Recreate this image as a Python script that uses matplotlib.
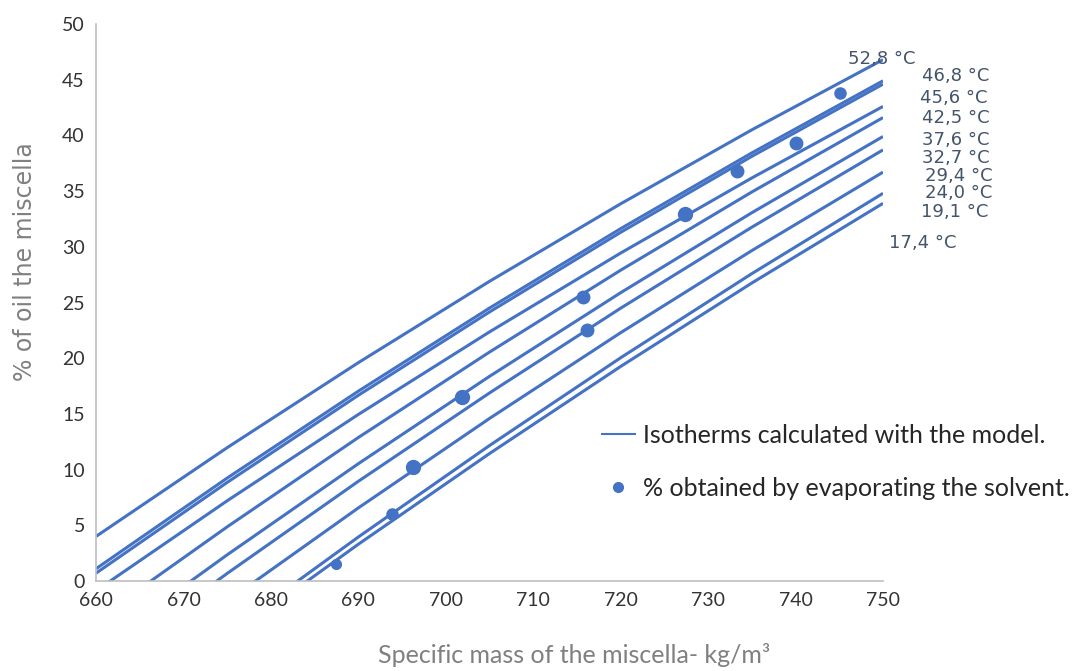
import matplotlib
matplotlib.use("Agg")
import matplotlib.pyplot as plt
from matplotlib.lines import Line2D

# specific mass grid (kg/m3) on which the isotherms were read
mass = [660, 675, 690, 705, 720, 735, 750]

# % of oil read along each isotherm (below 0 is cut by the axis)
iso_52_8 = [4.0, 11.97, 19.60, 26.90, 33.86, 40.50, 46.8]
iso_46_8 = [1.1, 9.24, 17.04, 24.50, 31.63, 38.43, 44.9]
iso_45_6 = [0.7, 8.85, 16.67, 24.15, 31.30, 38.12, 44.6]
iso_42_5 = [-0.88, 7.20, 14.95, 22.36, 29.44, 36.18, 42.6]
iso_37_6 = [-3.49, 4.86, 12.88, 20.55, 27.90, 34.92, 41.6]
iso_32_7 = [-6.16, 2.35, 10.53, 18.37, 25.88, 33.06, 39.9]
iso_29_4 = [-7.93, 0.68, 8.95, 16.88, 24.49, 31.76, 38.7]
iso_24_0 = [-10.51, -1.81, 6.56, 14.59, 22.29, 29.66, 36.7]
iso_19_1 = [-13.47, -4.60, 3.95, 12.16, 20.04, 27.59, 34.8]
iso_17_4 = [-14.0, -5.19, 3.30, 11.44, 19.26, 26.75, 33.9]

isotherms = [iso_52_8, iso_46_8, iso_45_6, iso_42_5, iso_37_6,
             iso_32_7, iso_29_4, iso_24_0, iso_19_1, iso_17_4]
iso_labels = ["52,8 °C", "46,8 °C", "45,6 °C", "42,5 °C", "37,6 °C",
              "32,7 °C", "29,4 °C", "24,0 °C", "19,1 °C", "17,4 °C"]

# measured points (evaporation of the solvent)
meas_mass = [687.5, 693.8, 696.2, 701.8, 716.1, 715.7, 727.4, 733.3, 740.1, 745.1]
meas_oil = [1.5, 6.0, 10.2, 16.5, 22.5, 25.5, 32.9, 36.8, 39.3, 43.8]

blue = "#4472C4"
label_col = "#44546A"

fig = plt.figure(figsize=(10.79, 6.71), dpi=100)
ax = fig.add_axes([96 / 1079, 1 - 581 / 671, (883 - 96) / 1079, (581 - 24) / 671])

for ys in isotherms:
    ax.plot(mass, ys, color=blue, lw=2.2, solid_capstyle="butt")

marker_sizes = [7, 8, 10, 10, 9, 9, 10, 9, 9, 8]
for xm, ym, ms in zip(meas_mass, meas_oil, marker_sizes):
    ax.plot(xm, ym, "o", color=blue, ms=ms, mec=blue, zorder=3)

ax.set_xlim(660, 750)
ax.set_ylim(0, 50)
ax.set_xticks(range(660, 751, 10))
ax.set_yticks(range(0, 51, 5))
ax.tick_params(length=0, labelsize=14, colors="#333333", pad=8)
for t in ax.get_xticklabels() + ax.get_yticklabels():
    t.set_fontfamily("Lato")
for s in ["top", "right"]:
    ax.spines[s].set_visible(False)
for s in ["left", "bottom"]:
    ax.spines[s].set_color("#BFBFBF")
    ax.spines[s].set_linewidth(1.2)

# isotherm labels at the right end
label_pos = [(746.0, 46.9), (754.5, 45.3), (754.2, 43.4), (754.5, 41.6),
             (754.5, 39.6), (754.5, 38.0), (754.8, 36.4), (754.8, 34.85),
             (754.3, 33.1), (750.7, 30.3)]
for (lx, ly), txt in zip(label_pos, iso_labels):
    ax.text(lx, ly, txt, ha="left", va="center", fontsize=13,
            color=label_col, family="DejaVu Sans", clip_on=False)

fig.text(574 / 1079, 1 - 655 / 671, "Specific mass of the miscella- kg/m³",
         ha="center", va="center", fontsize=18, color="#808080", family="Lato")
fig.text(25 / 1079, 1 - 262 / 671, "% of oil the miscella", rotation=90,
         ha="center", va="center", fontsize=17, color="#808080", family="DejaVu Sans")

handles = [Line2D([], [], color=blue, lw=1.5),
           Line2D([], [], ls="", marker="o", color=blue, ms=7)]
fig.legend(handles, ["Isotherms calculated with the model.",
                     "% obtained by evaporating the solvent."],
           loc="upper left", bbox_to_anchor=(602 / 1079, 1 - 424 / 671),
           frameon=False, prop={"family": "Lato", "size": 18},
           borderpad=0, borderaxespad=0,
           handlelength=1.3, handletextpad=0.35, labelspacing=1.2,
           labelcolor="#262626")

fig.savefig("out.png", dpi=100)
